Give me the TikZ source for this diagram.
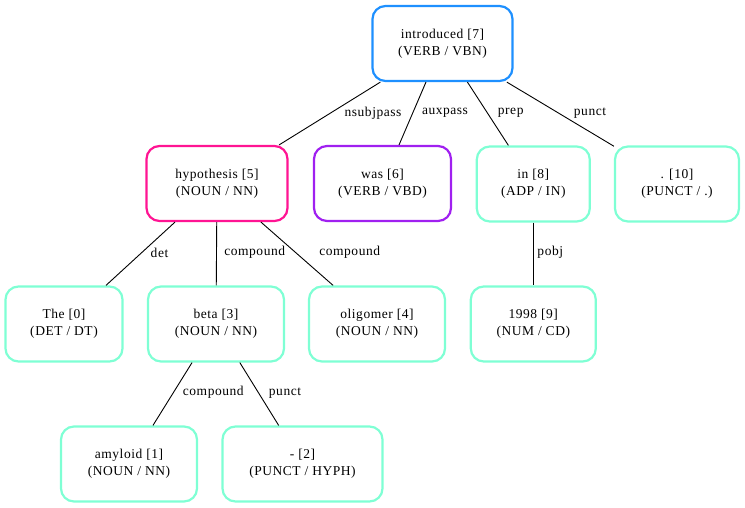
\documentclass[tikz,border=0pt]{standalone}
\usepackage{fontspec}
\setmainfont{Liberation Serif}[LetterSpace=4]
\definecolor{cblue}{HTML}{1E90FF}
\definecolor{cpink}{HTML}{FF1493}
\definecolor{cpurple}{HTML}{A020F0}
\definecolor{caqua}{HTML}{7FFFD4}
\begin{document}
\begin{tikzpicture}[x=1bp,y=-1bp,
  tok/.style={draw=caqua, line width=2.2bp, rounded corners=13bp, inner sep=0pt,
    minimum height=75bp, align=center, fill=white,
    font=\fontsize{13.5bp}{17bp}\selectfont},
  rel/.style={inner sep=0pt, font=\fontsize{13.5bp}{15bp}\selectfont},
  link/.style={draw=black, line width=0.9bp}]
\useasboundingbox (0,0) rectangle (745,508);

\node[tok, draw=cblue, minimum width=140bp] (intro) at (442.5,43.5) {introduced [7]\\(VERB / VBN)};
\node[tok, draw=cpink, minimum width=141bp] (hyp) at (217,183.5) {hypothesis [5]\\(NOUN / NN)};
\node[tok, draw=cpurple, minimum width=137bp] (was) at (382.5,183.5) {was [6]\\(VERB / VBD)};
\node[tok, minimum width=113bp] (in) at (533.3,184) {in [8]\\(ADP / IN)};
\node[tok, minimum width=124bp] (dot) at (677,184) {. [10]\\(PUNCT / .)};
\node[tok, minimum width=117bp] (the) at (64,324) {The [0]\\(DET / DT)};
\node[tok, minimum width=136bp] (beta) at (216,324) {beta [3]\\(NOUN / NN)};
\node[tok, minimum width=136bp] (olig) at (377,324) {oligomer [4]\\(NOUN / NN)};
\node[tok, minimum width=125bp] (year) at (533.3,324) {1998 [9]\\(NUM / CD)};
\node[tok, minimum width=136bp] (amy) at (129,464) {amyloid [1]\\(NOUN / NN)};
\node[tok, minimum width=160bp] (dash) at (302.5,464) {- [2]\\(PUNCT / HYPH)};

\draw[link] (intro) -- (hyp) node[rel] (l1) at (373,113) {nsubjpass};
\draw[link] (intro) -- (was) node[rel] (l2) at (445,113) {auxpass};
\draw[link] (intro) -- (in) node[rel] (l3) at (510.7,113) {prep};
\draw[link] (intro) -- (dot) node[rel] (l4) at (590,113) {punct};
\draw[link] (hyp) -- (the) node[rel] (l5) at (159.5,252.5) {det};
\draw[link] (hyp) -- (beta) node[rel] (l6) at (254.7,252.5) {compound};
\draw[link] (hyp) -- (olig) node[rel] (l7) at (349.7,252.5) {compound};
\draw[link] (in) -- (year) node[rel] (l8) at (550.3,252.5) {pobj};
\draw[link] (beta) -- (amy) node[rel] (l9) at (213.3,392.7) {compound};
\draw[link] (beta) -- (dash) node[rel] (l10) at (285,392.7) {punct};
\end{tikzpicture}
\end{document}
